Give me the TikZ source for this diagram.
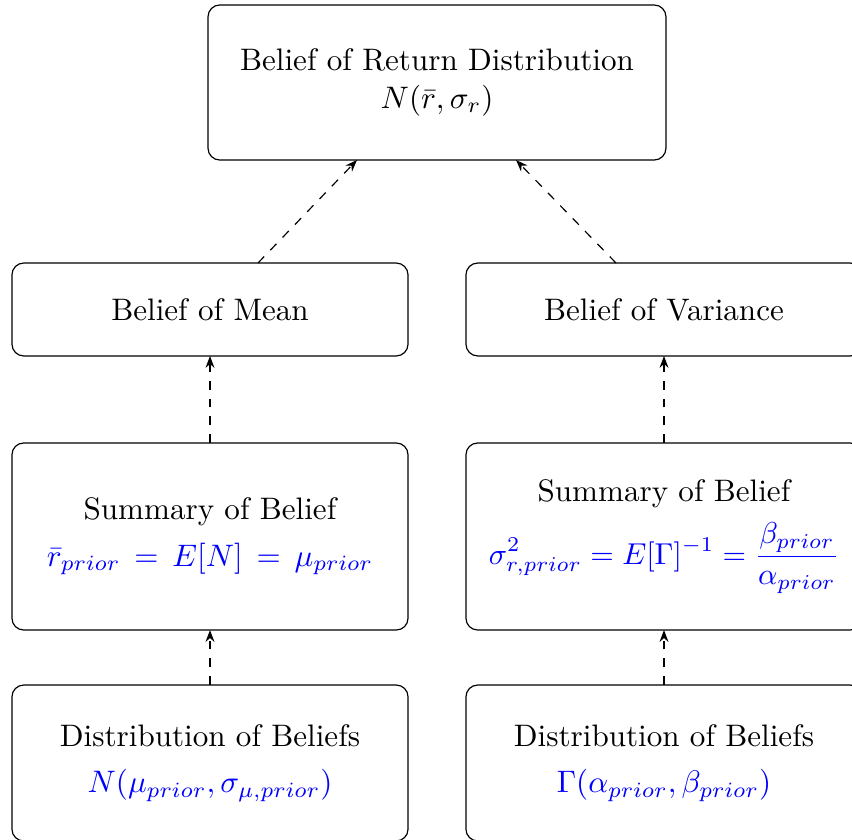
\RequirePackage{fix-cm}
\documentclass[tikz,border=0pt]{standalone}
\usetikzlibrary{arrows.meta}
\begin{document}
\begin{tikzpicture}[x=0.3378pt,y=-0.3378pt,
  box/.style={draw,rounded corners=4pt,align=center,inner sep=0pt,outer sep=0pt,minimum width=133.8pt,font=\fontsize{10.5pt}{12.6pt}\selectfont},
  conn/.style={dashed,-{Stealth[length=4pt,width=3pt]}}]
\useasboundingbox (0,0) rectangle (852,840);
\node[box,minimum width=154.7pt,minimum height=52.4pt] (ret) at (437,82.5)
  {Belief of Return Distribution\\ $N(\bar r,\sigma_r)$};
\node[box,minimum height=31.4pt] (mean) at (210,309.5) {Belief of Mean};
\node[box,minimum height=31.4pt] (var) at (664,309.5) {Belief of Variance};
\node[box,minimum height=63.2pt] (sumL) at (210,536.5)
  {Summary of Belief\\[3pt] \textcolor{blue}{$\bar r_{prior}\,=\,E[N]\,=\,\mu_{prior}$}};
\node[box,minimum height=63.2pt] (sumR) at (664,536.5)
  {Summary of Belief\\[4pt] \textcolor{blue}{\fontsize{10.2pt}{12pt}\selectfont$\displaystyle \sigma^2_{r,prior}=E[\Gamma]^{-1}=\frac{\beta_{prior}}{\alpha_{prior}}$}};
\node[box,minimum height=52.7pt] (distL) at (210,763)
  {Distribution of Beliefs\\[3pt] \textcolor{blue}{$N(\mu_{prior},\sigma_{\mu,prior})$}};
\node[box,minimum height=52.7pt] (distR) at (664,763)
  {Distribution of Beliefs\\[3pt] \textcolor{blue}{$\Gamma(\alpha_{prior},\beta_{prior})$}};
\coordinate (a1) at (258,263); \coordinate (b1) at (357,160);
\coordinate (a2) at (616,263); \coordinate (b2) at (516,160);
\draw[conn] (a1) -- (b1);
\draw[conn] (a2) -- (b2);
\draw[conn] (sumL) -- (mean);
\draw[conn] (sumR) -- (var);
\draw[conn] (distL) -- (sumL);
\draw[conn] (distR) -- (sumR);
\end{tikzpicture}
\end{document}
